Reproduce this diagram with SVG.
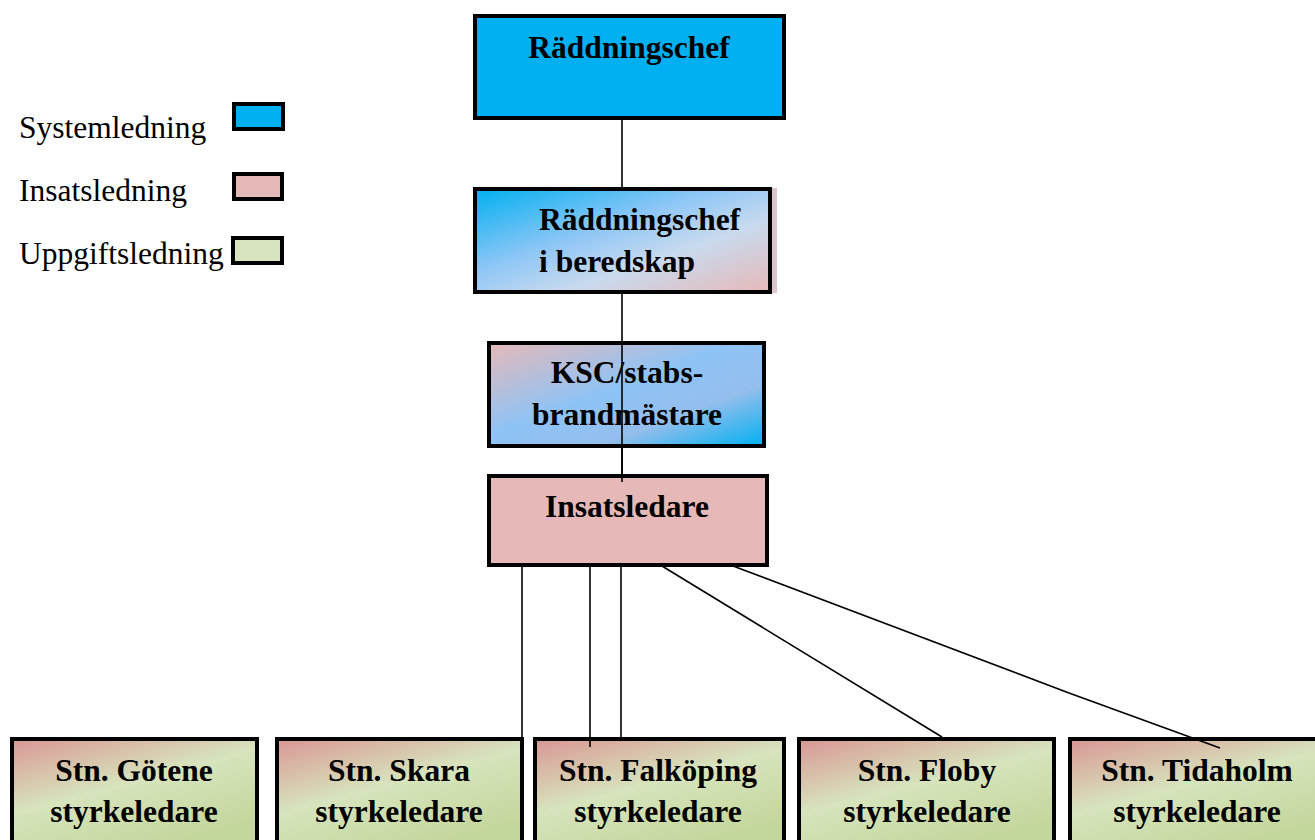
<svg xmlns="http://www.w3.org/2000/svg" width="1315" height="840" viewBox="0 0 1315 840">
<style>
.box{stroke:#000;stroke-width:4}
.t{font-family:"Liberation Serif","Times New Roman",serif;font-weight:bold;font-size:31.5px;fill:#000;text-anchor:middle}
.lg{font-family:"Liberation Serif","Times New Roman",serif;font-size:31.5px;fill:#000}
.c{stroke:#000;stroke-width:1.6;fill:none}
</style>
<defs>
<linearGradient id="gBlueTop" x1="0" y1="0" x2="1" y2="1">
<stop offset="0" stop-color="#00B0F0"/>
<stop offset="0.4" stop-color="#8DC6F6"/>
<stop offset="0.65" stop-color="#C9DAEE"/>
<stop offset="1" stop-color="#E6B9B8"/>
</linearGradient>
<linearGradient id="gPinkBlue" x1="0" y1="0" x2="1" y2="1">
<stop offset="0" stop-color="#E6B9B8"/>
<stop offset="0.45" stop-color="#8EC3F6"/>
<stop offset="0.7" stop-color="#94BEEC"/>
<stop offset="1" stop-color="#00B0F0"/>
</linearGradient>
<linearGradient id="gStn" x1="0" y1="0" x2="0.6" y2="1">
<stop offset="0" stop-color="#D99694"/>
<stop offset="0.5" stop-color="#D7E4BD"/>
<stop offset="1" stop-color="#C3D69B"/>
</linearGradient>
</defs>
<g id="legend">
<text class="lg" x="19" y="138">Systemledning</text>
<rect class="box" x="234" y="104" width="49" height="25" fill="#00B0F0"/>
<text class="lg" x="19" y="201">Insatsledning</text>
<rect class="box" x="234" y="174" width="48" height="25" fill="#E6B9B8"/>
<text class="lg" x="19" y="264">Uppgiftsledning</text>
<rect class="box" x="233" y="238" width="49" height="25" fill="#D7E4BD"/>
</g>
<g id="connectors">
<line class="c" x1="622" y1="118" x2="622" y2="188"/>
<line class="c" x1="622" y1="293" x2="622" y2="342"/>
<line class="c" x1="522" y1="566" x2="522" y2="738"/>
<line class="c" x1="590" y1="566" x2="590" y2="738"/>
<line class="c" x1="621" y1="566" x2="621" y2="738"/>
<line class="c" x1="662" y1="566" x2="942" y2="737"/>
<line class="c" x1="733" y1="566" x2="1069" y2="693"/>
</g>
<g id="n-raddningschef">
<rect class="box" x="475" y="16" width="309" height="102" fill="#00B0F0"/>
<text class="t" x="629" y="58">Räddningschef</text>
</g>
<g id="n-beredskap">
<rect x="772" y="188" width="5" height="105" fill="#DCC3CC"/>
<rect class="box" x="475" y="189" width="295" height="103" fill="url(#gBlueTop)"/>
<text class="t" x="539" y="230" style="text-anchor:start">Räddningschef</text>
<text class="t" x="539" y="272" style="text-anchor:start">i beredskap</text>
</g>
<g id="n-ksc">
<rect class="box" x="489" y="343" width="275" height="103" fill="url(#gPinkBlue)"/>
<text class="t" x="627" y="383">KSC/stabs-</text>
<text class="t" x="627" y="425">brandmästare</text>
<line class="c" x1="622" y1="341" x2="622" y2="482"/>
</g>
<g id="n-insatsledare">
<rect class="box" x="489" y="476" width="278" height="89" fill="#E6B9B8"/>
<text class="t" x="627" y="517">Insatsledare</text>
<line class="c" x1="622" y1="446" x2="622" y2="482"/>
</g>
<g id="n-gotene">
<rect class="box" x="12" y="739" width="245" height="110" fill="url(#gStn)"/>
<text class="t" x="134" y="781">Stn. Götene</text>
<text class="t" x="134" y="822">styrkeledare</text>
</g>
<g id="n-skara">
<rect class="box" x="277" y="739" width="245" height="110" fill="url(#gStn)"/>
<text class="t" x="399" y="781">Stn. Skara</text>
<text class="t" x="399" y="822">styrkeledare</text>
</g>
<g id="n-falkoping">
<rect class="box" x="535" y="739" width="249" height="110" fill="url(#gStn)"/>
<text class="t" x="658" y="781">Stn. Falköping</text>
<text class="t" x="658" y="822">styrkeledare</text>
<line class="c" x1="590" y1="737" x2="590" y2="747"/>
</g>
<g id="n-floby">
<rect class="box" x="799" y="739" width="255" height="110" fill="url(#gStn)"/>
<text class="t" x="927" y="781">Stn. Floby</text>
<text class="t" x="927" y="822">styrkeledare</text>
</g>
<g id="n-tidaholm">
<rect class="box" x="1070" y="739" width="260" height="110" fill="url(#gStn)"/>
<text class="t" x="1197" y="781">Stn. Tidaholm</text>
<text class="t" x="1197" y="822">styrkeledare</text>
<line class="c" x1="1069" y1="693" x2="1220" y2="748"/>
</g>
</svg>
